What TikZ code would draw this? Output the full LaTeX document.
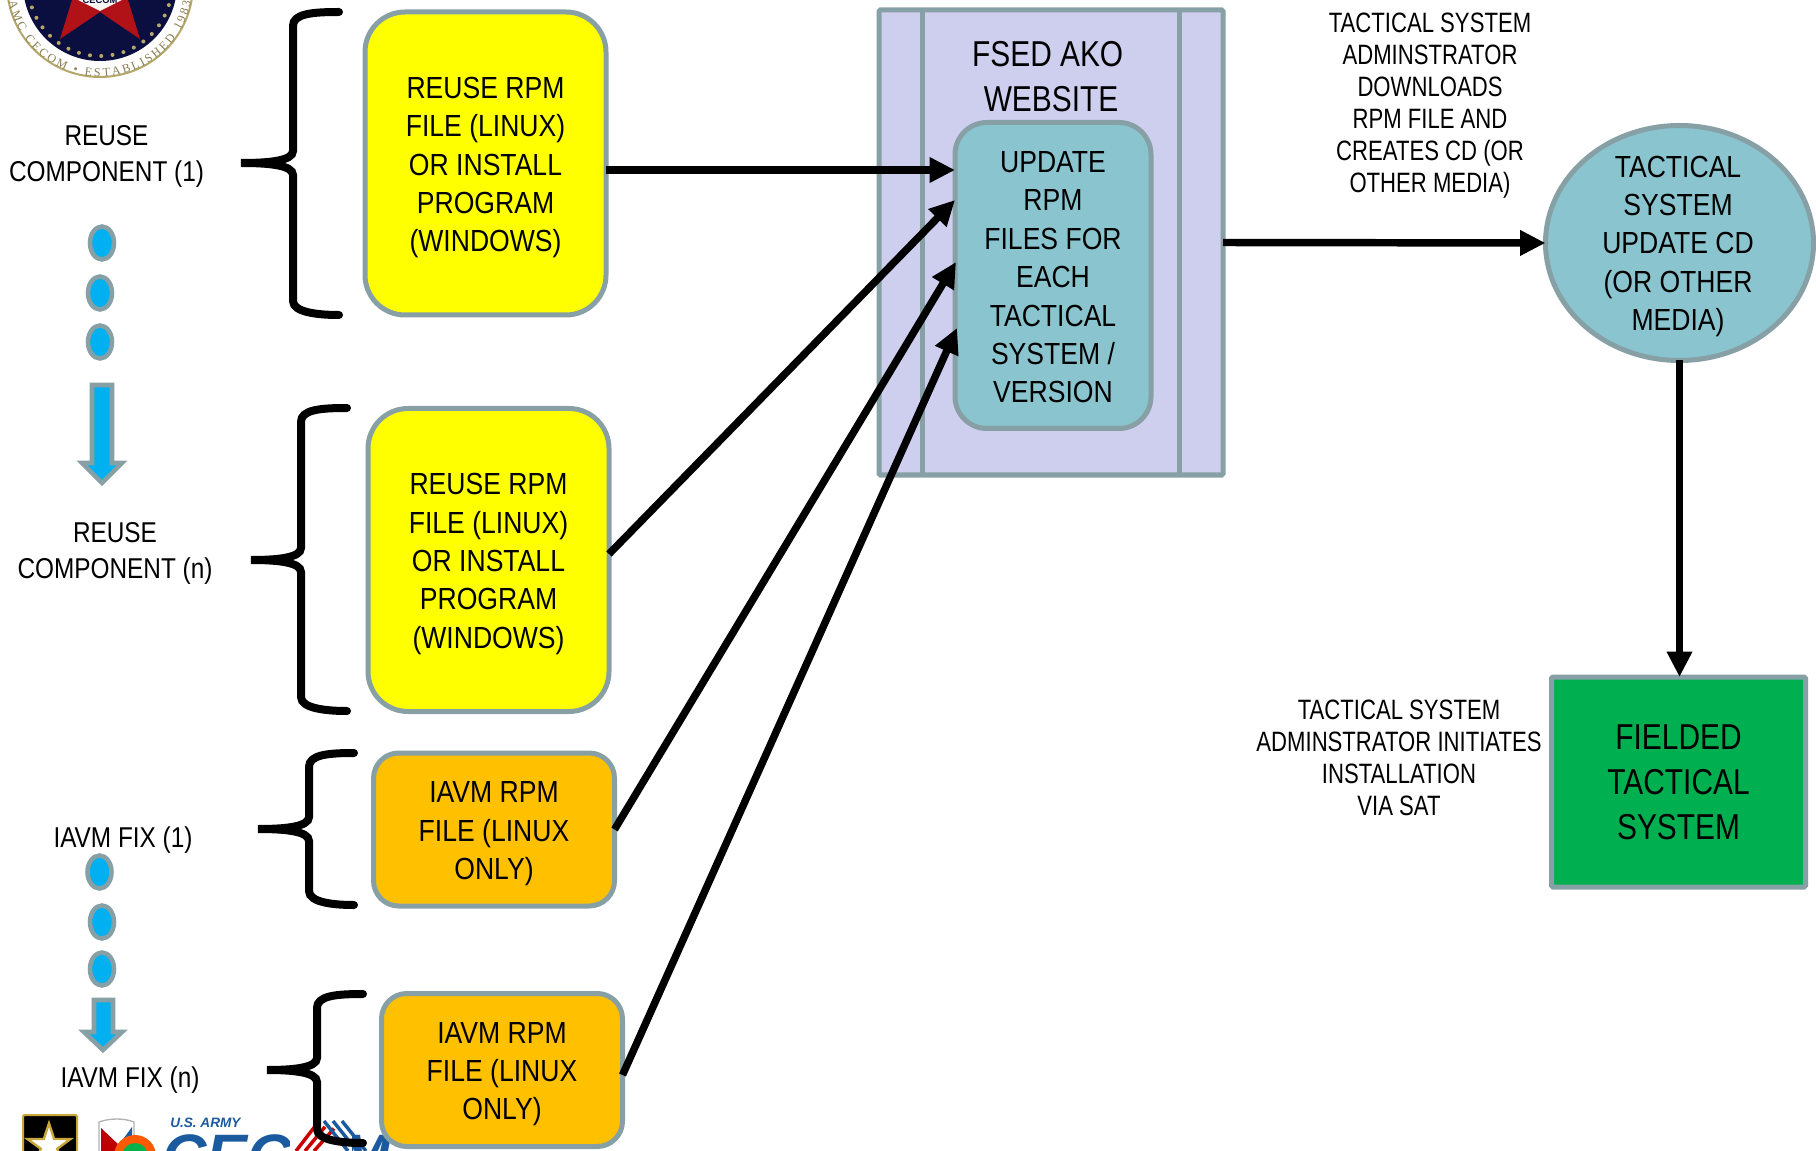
\documentclass[tikz,border=0pt]{standalone}
\usepackage{fontspec}
\usetikzlibrary{arrows.meta,shapes.geometric,decorations.text,calc}
\setmainfont{Liberation Sans}
\newfontfamily\fntbox[FakeStretch=.87]{Liberation Sans}
\newfontfamily\fntbig[FakeStretch=.83]{Liberation Sans}
\newfontfamily\fntlab[FakeStretch=.85]{Liberation Sans}
\newfontfamily\fntnote[FakeStretch=.79]{Liberation Sans}
\newfontfamily\fntseal{Liberation Serif}
\definecolor{edgegray}{HTML}{87A0A5}
\definecolor{lav}{HTML}{CECEEE}
\definecolor{tealf}{HTML}{8AC4CE}
\definecolor{yellowf}{HTML}{FFFF00}
\definecolor{orangef}{HTML}{FFC000}
\definecolor{greenf}{HTML}{00B050}
\definecolor{cyanf}{HTML}{00B0F0}
\definecolor{navy}{HTML}{0A0F3F}
\definecolor{sealtan}{HTML}{B5A76A}
\definecolor{sealred}{HTML}{B01218}
\definecolor{armygold}{HTML}{C9A73B}
\definecolor{cecomblue}{HTML}{1B5A9E}
\newcommand{\up}{\rule{0pt}{22pt}}
\newcommand{\upsmall}{\rule{0pt}{18.5pt}}
\tikzset{
  sz/.style 2 args={minimum width=#1*0.75pt,minimum height=#2*0.75pt},
  boxbase/.style={draw=edgegray,line width=3.75pt,outer sep=0pt,inner sep=0pt,align=center,text=black},
  boxtxt/.style={font=\fntbox\fontsize{22.9}{28.8}\selectfont},
  bigtxt/.style={font=\fntbig\fontsize{27}{33.6}\selectfont},
  labeltxt/.style={font=\fntlab\fontsize{21.5}{27}\selectfont,align=center,inner sep=0pt},
  notetxt/.style={font=\fntnote\fontsize{21}{24}\selectfont,align=center,inner sep=0pt},
  yellowbox/.style={boxbase,boxtxt,rectangle,rounded corners=30pt,fill=yellowf,sz={241}{303}},
  orangebox/.style={boxbase,boxtxt,rectangle,rounded corners=19pt,fill=orangef,sz={241}{153}},
  conn/.style={line width=5.6pt,-{Triangle[length=19pt,width=18pt]},black},
  dotn/.style={ellipse,draw=edgegray,fill=cyanf,line width=3.4pt,sz={24}{33},inner sep=0pt},
  blockarrow/.style={draw=edgegray,fill=cyanf,line width=3.4pt,miter limit=10},
  bracestyle/.style={line width=6pt,black,line cap=round,fill=none}
}
\newcommand{\curly}[6]{% x, top, mid, bottom, right, tip
  \draw[bracestyle] (#5,#2) .. controls ({#1+18},#2) and (#1,{#2+2}) .. (#1,{#2+14})
    -- (#1,{#3-12}) .. controls (#1,{#3-2}) and ({#1-25},#3) .. (#6,#3)
    .. controls ({#1-25},#3) and (#1,{#3+2}) .. (#1,{#3+12})
    -- (#1,{#4-14}) .. controls (#1,{#4-2}) and ({#5-18},#4) .. (#5,#4);}
\begin{document}
\begin{tikzpicture}[x=0.75pt,y=-0.75pt]
\clip (0,0) rectangle (1816,1151);
\useasboundingbox (0,0) rectangle (1816,1151);
% seal
\coordinate (seal) at (100,-16);
\fill[white] (seal) circle[radius=94];
\draw[sealtan,line width=1.5pt] (seal) circle[radius=93];
\fill[navy] (seal) circle[radius=77];
\foreach \a in {190,199,...,350}{\fill[sealtan] (seal) ++(\a:54pt) circle[radius=2];}
\fill[sealred] (72,0) -- (60,39) -- (100,12) -- (140,39) -- (128,0) -- cycle;
\fill[white!90!sealtan] (74,-2) -- (100,11) -- (126,-2) -- cycle;
\node[anchor=base,inner sep=0pt,text=navy,font=\bfseries\fontsize{7}{8}\selectfont] (sealname) at (100,4) {CECOM};
\path[decorate,decoration={text along path,text align={fit to path},
  text={|\fntseal\fontsize{9}{10}\selectfont\color{sealtan!75!black}|AMC CECOM • ESTABLISHED 1983}}]
  (seal) ++(191:69.5pt) arc[start angle=191,end angle=349,radius=69.5pt];
% logos
\fill[black] (24,1116) rectangle (76,1160);
\draw[armygold,line width=1.5pt,rounded corners=1pt] (23,1115) rectangle (77,1165);
\node[star,star points=5,star point ratio=2.6,fill=white,draw=armygold,line width=1.8pt,minimum size=34pt,inner sep=0pt] (armystar) at (49,1146) {};
\draw[gray!60,fill=white,line width=1pt] (99,1122) .. controls (110,1118) and (124,1118) .. (134,1122) -- (134,1165) -- (99,1165) -- cycle;
\fill[red!75!black] (101,1128) -- (120,1146) -- (112,1165) -- (101,1165) -- cycle;
\fill[cecomblue] (132,1127) -- (121,1142) -- (132,1150) -- cycle;
\fill[orange!70!red] (135,1156) circle[radius=21];
\fill[green!40!teal] (135,1156) circle[radius=13];
\node[anchor=west,inner sep=0pt,text=cecomblue,font=\bfseries\itshape\fontsize{10.2}{12}\selectfont] (usarmy) at (170,1123) {U.S. ARMY};
\node[anchor=base west,inner sep=0pt,text=cecomblue,font=\bfseries\itshape\fontsize{46}{50}\selectfont] (cecom) at (162,1177) {CECOM};
\fill[white] (290,1120) rectangle (352,1151);
\foreach \d in {0,9,18}{\draw[red!80!black,line width=2.6pt] ({296+\d},1151) -- ({316+\d-0},{1125+\d*0.2});}
\foreach \d in {0,9,18}{\draw[cecomblue,line width=2.6pt] ({324+\d},1121) -- ({348+\d},1151);}
% braces
\curly{293}{12}{163}{315}{339}{241}
\curly{301}{408}{560}{711}{347}{251}
\curly{309}{753}{829}{905}{354}{258}
\curly{317}{994}{1070}{1143}{363}{267}
% left labels
\node[labeltxt] (l1) at (106.5,156.5) {REUSE\\COMPONENT (1)};
\node[labeltxt] (l2) at (115,553) {REUSE\\COMPONENT (n)};
\node[labeltxt] (l3) at (123,840.5) {IAVM FIX (1)};
\node[labeltxt] (l4) at (130,1080.5) {IAVM FIX (n)};
% dots
\node[dotn] (d1) at (102,243) {};
\node[dotn] (d2) at (100,293) {};
\node[dotn] (d3) at (100,342) {};
\node[dotn] (d4) at (99.5,872) {};
\node[dotn] (d5) at (102,922) {};
\node[dotn] (d6) at (102,969) {};
% block arrows
\draw[blockarrow] (92,385) -- (112,385) -- (112,463) -- (122,463) -- (102,483) -- (82,463) -- (92,463) -- cycle;
\draw[blockarrow] (94,1000) -- (113,1000) -- (113,1032) -- (122,1032) -- (103,1050) -- (84,1032) -- (94,1032) -- cycle;
% boxes
\node[yellowbox] (y1) at (485.5,163.5) {\up REUSE RPM\\FILE (LINUX)\\OR INSTALL\\PROGRAM\\(WINDOWS)};
\node[yellowbox] (y2) at (488.5,560) {\up REUSE RPM\\FILE (LINUX)\\OR INSTALL\\PROGRAM\\(WINDOWS)};
\node[orangebox] (o1) at (494,829.5) {\up IAVM RPM\\FILE (LINUX\\ONLY)};
\node[orangebox] (o2) at (502,1070) {\up IAVM RPM\\FILE (LINUX\\ONLY)};
% website
\node[boxbase,rectangle,fill=lav,rounded corners=1pt,sz={344}{465}] (web) at (1051,242.5) {};
\draw[edgegray,line width=3.75pt] ([xshift=32.3pt]web.north west) -- ([xshift=32.3pt]web.south west);
\draw[edgegray,line width=3.75pt] ([xshift=-33pt]web.north east) -- ([xshift=-33pt]web.south east);
\node[bigtxt,align=center,inner sep=0pt] (webtitle) at (1051,77) {FSED AKO\hspace*{5pt}\\WEBSITE};
\node[boxbase,boxtxt,rectangle,rounded corners=24pt,fill=tealf,sz={196}{306}] (inner) at (1053,275.5) {\upsmall UPDATE\\RPM\\FILES FOR\\EACH\\TACTICAL\\SYSTEM /\\VERSION};
% circle and fielded
\node[boxbase,ellipse,fill=tealf,sz={268}{235}] (circ) at (1679.5,243) {};
\node[boxtxt,align=center,inner sep=0pt] (circtxt) at (1678,246.5) {TACTICAL\\SYSTEM\\UPDATE CD\\(OR OTHER\\MEDIA)};
\node[boxbase,bigtxt,rectangle,rounded corners=1pt,fill=greenf,sz={254}{210}] (green) at (1678.5,782) {FIELDED\\TACTICAL\\SYSTEM};
% notes
\node[notetxt] (n1) at (1430,105.5) {TACTICAL SYSTEM\\ADMINSTRATOR\\DOWNLOADS\\RPM FILE AND\\CREATES CD (OR\\OTHER MEDIA)};
\node[notetxt] (n2) at (1399,758) {TACTICAL SYSTEM\\ADMINSTRATOR INITIATES\\INSTALLATION\\VIA SAT};
% connectors
\coordinate (t1) at (955,170);
\coordinate (t2) at (955,200);
\coordinate (t3) at (956,262);
\coordinate (t4) at (957,328);
\coordinate (s1) at (606,170);
\draw[conn] (s1) -- (t1);
\draw[conn] ([yshift=4.5pt]y2.east) -- (t2);
\draw[conn] (o1.east) -- (t3);
\draw[conn] ([yshift=-3.75pt]o2.east) -- (t4);
\draw[conn] (web.east) -- (circ.west);
\draw[conn] (circ.south) -- (circ.south |- green.north);
\end{tikzpicture}
\end{document}
